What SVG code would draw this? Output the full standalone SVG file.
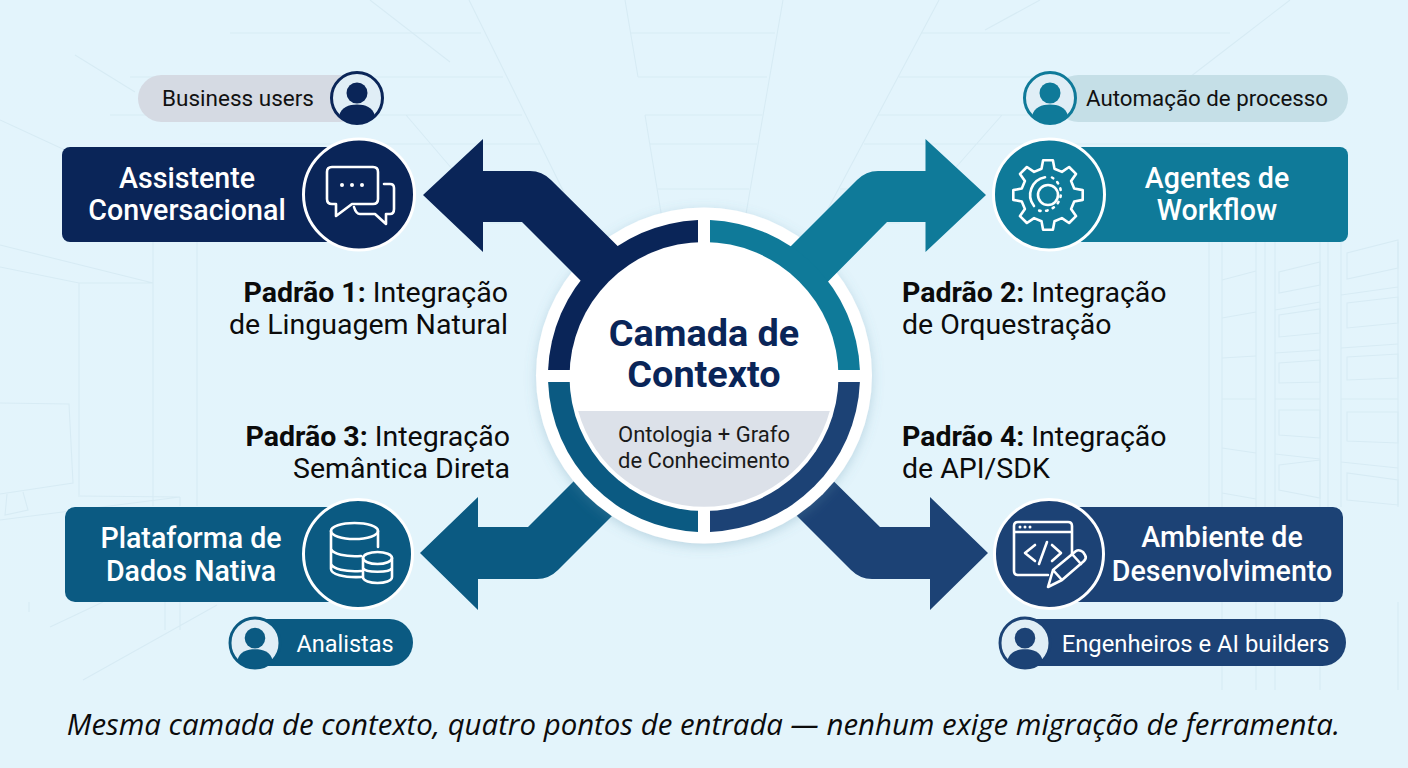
<svg xmlns="http://www.w3.org/2000/svg" width="1408" height="768" viewBox="0 0 1408 768">
<style>
text{font-family:"Roboto","Liberation Sans",sans-serif}
.bgl{fill:none;stroke:#d7ebf4;stroke-width:1.1}
.t{font-size:28.600px;font-weight:500;fill:#fff;text-anchor:middle}
.pd{fill:#111}
.pw{fill:#fff}
.lab{font-size:28.500px;fill:#0b0b0b}
.lab tspan{font-weight:700}
.ic{fill:none;stroke:#fff;stroke-width:2.6;stroke-linecap:round;stroke-linejoin:round}
</style>
<defs>
<linearGradient id="bg" x1="0" y1="0" x2="0" y2="1"><stop offset="0" stop-color="#e3f4fc"/><stop offset="1" stop-color="#e3f4fb"/></linearGradient>
<filter id="sh" x="-20%" y="-20%" width="140%" height="140%"><feDropShadow dx="0" dy="3" stdDeviation="6" flood-color="#5c8ea8" flood-opacity="0.3"/></filter>
<g id="person">
<circle r="25.500" fill="#e0eef6" stroke="currentColor" stroke-width="3"/>
<circle cy="-5" r="10.500" fill="currentColor"/>
<path d="M-18,18C-16,9,-8,6.500,0,6.500C8,6.500,16,9,18,18A25.500,25.500,0,0,1,-18,18Z" fill="currentColor"/>
</g>
</defs>
<rect width="1408" height="768" fill="url(#bg)"/>
<g id="background">
<path class="bgl" d="M469,0L586,237M625,0L638,77M631,33H775M638,77H767M783,0L742,237M645,115L665,237M645,115H762M650,144H757M658,189H749M663,223H745M939,0L813,237"/>
<path class="bgl" d="M230,33H481M130,77H503M110,115H522M200,144H540M440,189H563M490,223H580M406,115L465,184M921,33H1230M899,77H1290M878,115H1320M864,144H1210M840,189H945M825,223H900M1002,115L943,182"/>
<path class="bgl" d="M370,0L450,62M75,55L135,92M0,120L65,150M1040,0L985,30M1225,50L1160,100M1290,0L1225,50"/>
<path class="bgl" d="M0,245L153,283H79L0,267M79,283V495M153,242V506M197,242V506M0,403L69,404L73,483L0,494M7,494L5,515L28,510L23,492M78,496L180,497L0,520M180,497V506M165,602V630M180,602V630M217,605L83,680M103,602L50,627M29,602V612"/>
<path class="bgl" d="M1209,242V507M1222,242V507M1256,242V507M1265,242V507M1275,242V507M1320,242V507M1328,242V507M1341,242V507M1398,242V507M1222,602V690M1256,602V690M1275,602V690M1320,602V690M1398,602V690"/>
<path class="bgl" d="M1222,280L1256,271M1222,318L1256,312M1222,358L1256,356M1222,399H1256M1222,448L1256,453M1222,493L1256,499"/>
<path class="bgl" d="M1279,272V293L1320,285V262ZM1279,315V337L1320,333V309ZM1279,363V383L1320,382V360ZM1279,410V435L1320,438V410ZM1279,465V490L1320,498V460Z"/>
<path class="bgl" d="M1347,253V279L1398,268V240ZM1347,303V328L1398,323V297ZM1347,357V380L1398,378V354ZM1347,412V441L1398,443V412ZM1347,473V500L1398,505V480Z"/>
<path class="bgl" d="M1275,310L1320,302M1275,353L1320,350M1275,399H1320M1275,454L1320,459M1341,295L1398,287M1341,348L1398,344M1341,399H1398M1341,462L1398,468"/>
</g>
<g id="connectors">
<path id="arrow-3" fill="#0b5a82" d="M420,553L478,497V527H528L620,435L660,468L558,570Q549,579,537,579H478V610Z"/>
<path id="arrow-4" fill="#1c4275" d="M988,553L930,497V527H880L790,438L750,469L851,570Q860,579,872,579H930V610Z"/>
</g>
<g id="node-context-halo"><circle cx="704" cy="375.500" r="168" fill="#fff" filter="url(#sh)"/></g>
<g id="connectors-top">
<path id="arrow-1" fill="#0a2558" d="M423,195L483,139V171H530Q542,171,551,180L660,288L620,320L522,222H483V252Z"/>
<path id="arrow-2" fill="#0f7a99" d="M986,195L925.500,139V171H878Q866,171,857,180L750,287L790,320L887,222H925.500V252Z"/>
</g>
<g id="node-context">
<path fill="#0a2558" d="M698,370H548.100A156,156,0,0,1,698,220.100Z"/>
<path fill="#0f7a99" d="M710,370V220.100A156,156,0,0,1,859.900,370Z"/>
<path fill="#1c4275" d="M710,382H859.900A156,156,0,0,1,710,531.900Z"/>
<path fill="#0b5a82" d="M698,382V531.900A156,156,0,0,1,548.100,382Z"/>
<circle cx="704" cy="376.500" r="134.500" fill="#fff"/>
<path fill="#dce1e9" d="M578.200,411H829.800A130.500,130.500,0,0,1,578.200,411Z"/>
<text x="704" y="346" text-anchor="middle" font-size="37.800" font-weight="700" fill="#0a2558">Camada de</text>
<text x="704" y="387" text-anchor="middle" font-size="37.800" font-weight="700" fill="#0a2558">Contexto</text>
<text x="704" y="442" text-anchor="middle" font-size="22" fill="#1a1a1a">Ontologia + Grafo</text>
<text x="704" y="468" text-anchor="middle" font-size="22" fill="#1a1a1a">de Conhecimento</text>
</g>
<g id="node-assistente">
<rect x="138" y="75" width="225" height="47" rx="23.500" fill="#d5dae3"/>
<text class="pd" x="238" y="106" text-anchor="middle" font-size="22.500">Business users</text>
<use href="#person" transform="translate(357,98)" style="color:#0a2558"/>
<rect x="62" y="147" width="290" height="95" rx="8" fill="#0a2558"/>
<circle cx="359" cy="194.500" r="55.500" fill="#0a2558" stroke="#fff" stroke-width="3"/>
<text class="t" x="187" y="188">Assistente</text>
<text class="t" x="187" y="220">Conversacional</text>
<g class="ic">
<path d="M332,167H373Q378,167,378,172V199Q378,204,373,204H352L336,216V204H332Q327,204,327,199V172Q327,167,332,167Z"/>
<path d="M384,184H390Q394,184,394,188V209Q394,214,390,214H386V224L375,214H360Q356,214,354,207"/>
</g>
<g fill="#fff"><circle cx="342" cy="185" r="2"/><circle cx="352" cy="185" r="2"/><circle cx="362" cy="185" r="2"/></g>
</g>
<g id="node-agentes">
<rect x="1055" y="75" width="293" height="47" rx="23.500" fill="#c5dfe7"/>
<text class="pd" x="1207" y="106" text-anchor="middle" font-size="22.300">Automação de processo</text>
<use href="#person" transform="translate(1050,98)" style="color:#0f7a99"/>
<rect x="1056" y="147" width="292" height="95" rx="8" fill="#0f7a99"/>
<circle cx="1049" cy="194.500" r="55.500" fill="#0f7a99" stroke="#fff" stroke-width="3"/>
<text class="t" x="1217" y="188">Agentes de</text>
<text class="t" x="1217" y="220">Workflow</text>
<g class="ic" transform="translate(1048,195)">
<path d="M-6.500,-26.200L-4.900,-34.700L4.900,-34.700L6.500,-26.200L13.900,-23.100L21.100,-28L28,-21.100L23.100,-13.900L26.200,-6.500L34.700,-4.900L34.700,4.900L26.200,6.500L23.100,13.900L28,21.100L21.100,28L13.900,23.100L6.500,26.200L4.900,34.700L-4.900,34.700L-6.500,26.200L-13.900,23.100L-21.100,28L-28,21.100L-23.100,13.900L-26.200,6.500L-34.700,4.900L-34.700,-4.900L-26.200,-6.500L-23.100,-13.900L-28,-21.100L-21.100,-28L-13.900,-23.100Z"/>
<circle r="10"/>
<path d="M-14,11A18,18,0,0,1,-3,-17.800"/>
<path stroke-dasharray="1.500 5.500" d="M4,-17.500A18,18,0,0,1,-9,15.600"/>
</g>
</g>
<g id="node-plataforma">
<rect x="65" y="507" width="290" height="95" rx="10" fill="#0b5a82"/>
<circle cx="358" cy="554" r="54.500" fill="#0b5a82" stroke="#fff" stroke-width="3"/>
<text class="t" x="191" y="548">Plataforma de</text>
<text class="t" x="191" y="581">Dados Nativa</text>
<g class="ic">
<ellipse cx="354.500" cy="531" rx="23.500" ry="8"/>
<path d="M331,531V569C331,574,343,578,362,577M378,531V547M331,549C333,554,345,557,361,556M331,564C333,569,345,572,361,571"/>
<ellipse cx="377.500" cy="558" rx="14.500" ry="6"/>
<path d="M363,558V577C363,585,392,585,392,577V558M363,568C365,573,390,573,392,568"/>
</g>
<rect x="240" y="619" width="173" height="47" rx="23.500" fill="#0b5a82"/>
<use href="#person" transform="translate(255,643) scale(.98)" style="color:#0b5a82"/>
<text class="pw" x="345" y="652" text-anchor="middle" font-size="23.500">Analistas</text>
</g>
<g id="node-ambiente">
<rect x="1056" y="507" width="287" height="95" rx="10" fill="#1c4275"/>
<circle cx="1049" cy="554" r="54.500" fill="#1c4275" stroke="#fff" stroke-width="3"/>
<text class="t" x="1222" y="547">Ambiente de</text>
<text class="t" x="1222" y="581">Desenvolvimento</text>
<g class="ic">
<path d="M1072,555V526Q1072,522,1068,522H1018Q1014,522,1014,526V571Q1014,575,1018,575H1048M1014,532H1072"/>
<path d="M1035,545L1025,553L1035,561M1047,542L1039,564M1052,545L1061,553L1052,561"/>
<path d="M1048,587L1053,570L1076,551Q1079,549,1083,552L1085,555Q1087,558,1084,561L1062,580ZM1053,570L1062,580M1072,554L1081,564"/>
</g>
<g fill="#fff"><circle cx="1020" cy="527" r="1.500"/><circle cx="1025" cy="527" r="1.500"/><circle cx="1030" cy="527" r="1.500"/></g>
<rect x="1010" y="619" width="336" height="47" rx="23.500" fill="#1c4275"/>
<use href="#person" transform="translate(1025,643) scale(.98)" style="color:#1c4275"/>
<text class="pw" x="1195.500" y="652" text-anchor="middle" font-size="23.800">Engenheiros e AI builders</text>
</g>
<g id="labels">
<text class="lab" x="508" y="302" text-anchor="end"><tspan>Padrão 1:</tspan> Integração</text>
<text class="lab" x="508" y="334" text-anchor="end">de Linguagem Natural</text>
<text class="lab" x="902" y="302"><tspan>Padrão 2:</tspan> Integração</text>
<text class="lab" x="902" y="334">de Orquestração</text>
<text class="lab" x="510" y="446" text-anchor="end"><tspan>Padrão 3:</tspan> Integração</text>
<text class="lab" x="510" y="478" text-anchor="end">Semântica Direta</text>
<text class="lab" x="902" y="446"><tspan>Padrão 4:</tspan> Integração</text>
<text class="lab" x="902" y="478">de API/SDK</text>
<text x="703.500" y="735" text-anchor="middle" font-size="29.400" font-style="italic" fill="#0b0b0b" style="font-family:'Open Sans','Noto Sans',sans-serif">Mesma camada de contexto, quatro pontos de entrada — nenhum exige migração de ferramenta.</text>
</g>
</svg>
